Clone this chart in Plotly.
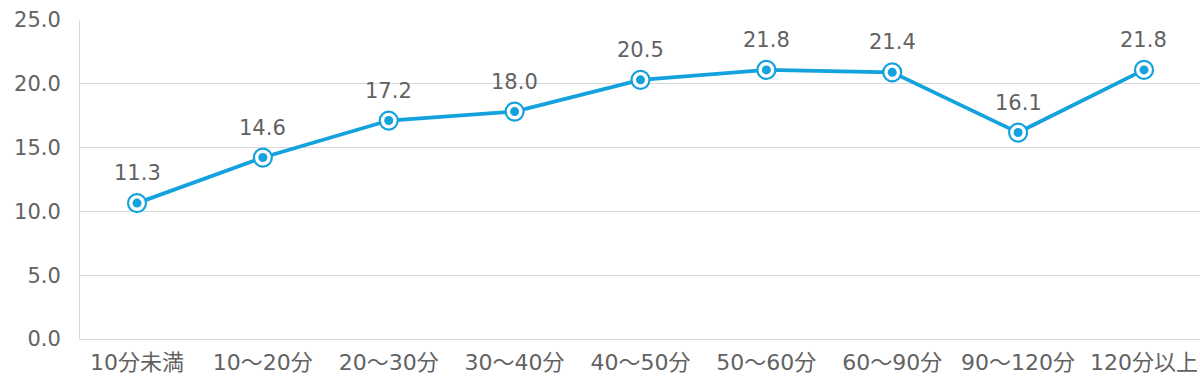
import plotly.graph_objects as go

categories = ["10分未満", "10～20分", "20～30分", "30～40分", "40～50分",
              "50～60分", "60～90分", "90～120分", "120分以上"]
values = [10.65, 14.22, 17.12, 17.82, 20.31, 21.09, 20.9, 16.18, 21.09]
label_texts = ["11.3", "14.6", "17.2", "18.0", "20.5", "21.8", "21.4", "16.1", "21.8"]
y_ticks = [0, 5, 10, 15, 20, 25]
y_tick_labels = ["0.0", "5.0", "10.0", "15.0", "20.0", "25.0"]

BLUE = "#13A2DE"
GREY_TEXT = "#626262"
GRID = "#D9D9D9"
FONT = "DejaVu Sans, Noto Sans CJK JP, sans-serif"

x_idx = list(range(len(categories)))

fig = go.Figure()
fig.add_trace(go.Scatter(
    x=x_idx, y=values, mode="lines",
    line=dict(color=BLUE, width=3.8),
    hoverinfo="skip", showlegend=False,
))
fig.add_trace(go.Scatter(
    x=x_idx, y=values, mode="markers",
    marker=dict(symbol="circle", size=18, color="white",
                line=dict(color=BLUE, width=2.2)),
    showlegend=False,
))
fig.add_trace(go.Scatter(
    x=x_idx, y=values, mode="markers",
    marker=dict(symbol="circle", size=9, color=BLUE, line=dict(width=0)),
    showlegend=False,
))

for xi, v, t in zip(x_idx, values, label_texts):
    fig.add_annotation(x=xi, y=v, text=t, showarrow=False, yshift=30,
                       font=dict(family=FONT, size=21, color=GREY_TEXT))

fig.update_layout(
    width=1200, height=380,
    margin=dict(l=80, r=0, t=20, b=41, autoexpand=False),
    paper_bgcolor="white", plot_bgcolor="white",
    font=dict(family=FONT, color=GREY_TEXT),
    showlegend=False,
)
fig.update_xaxes(
    tickmode="array", tickvals=x_idx, ticktext=categories,
    range=[-0.4528, 8.445], automargin=False,
    showgrid=False, zeroline=False,
    showline=True, linecolor=GRID, linewidth=1,
    ticks="", tickfont=dict(family=FONT, size=22, color=GREY_TEXT),
    ticklabelstandoff=4,
)
fig.update_yaxes(
    tickmode="array", tickvals=y_ticks, ticktext=y_tick_labels,
    range=[0, 25], automargin=False,
    showgrid=True, gridcolor=GRID, gridwidth=1,
    zeroline=False,
    showline=True, linecolor=GRID, linewidth=1,
    ticks="", tickfont=dict(family=FONT, size=21, color=GREY_TEXT),
    ticklabelstandoff=14,
)

fig.write_html(
    "out.html",
    config={"displayModeBar": False},
    post_script="document.body.style.margin='0';document.body.style.padding='0';document.body.style.overflow='hidden';",
)
